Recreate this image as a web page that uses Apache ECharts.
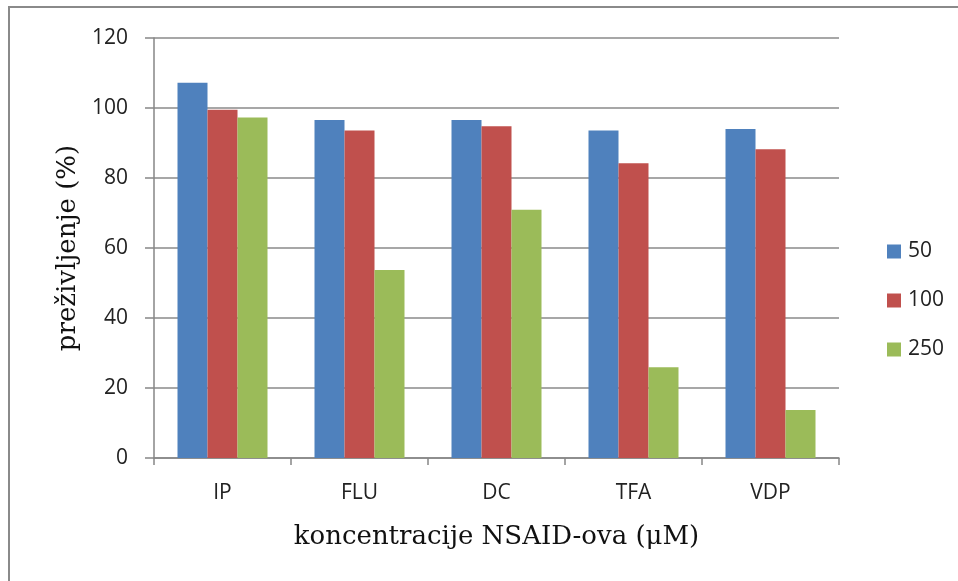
<!DOCTYPE html>
<html>
<head>
<meta charset="utf-8">
<script src="https://cdn.jsdelivr.net/npm/echarts@6/dist/echarts.min.js"></script>
<style>html,body{margin:0;padding:0;background:#fff}#c{width:958px;height:581px}</style>
</head>
<body>
<div id="c"></div>
<script>
const categories = ['IP', 'FLU', 'DC', 'TFA', 'VDP'];
const seriesNames = ['50', '100', '250'];
const s50 = [107.2, 96.6, 96.6, 93.6, 94.0];
const s100 = [99.5, 93.6, 94.8, 84.2, 88.2];
const s250 = [97.3, 53.7, 70.9, 25.9, 13.7];
const yTicks = [0, 20, 40, 60, 80, 100, 120];
const colors = ['#4F81BD', '#C0504D', '#9BBB59'];

const chart = echarts.init(document.getElementById('c'), null, {renderer: 'canvas'});
const seriesData = [s50, s100, s250];
const sansFont = 'Open Sans, sans-serif';
const serifFont = 'DejaVu Serif, serif';
chart.setOption({
  animation: false,
  backgroundColor: '#fff',
  graphic: [{
    type: 'rect', shape: {x: 9, y: 7, width: 1000, height: 1000},
    style: {fill: 'none', stroke: '#8a8a8a', lineWidth: 2}, silent: true
  }],
  grid: {left: 154, right: 119, top: 38, bottom: 123, containLabel: false},
  legend: {
    orient: 'vertical', left: 882, top: 236, itemGap: 28,
    itemWidth: 14, itemHeight: 14, icon: 'rect',
    textStyle: {fontFamily: sansFont, fontSize: 21, color: '#222', padding: [0, 0, 0, 2]},
    data: seriesNames
  },
  xAxis: {
    type: 'category', data: categories,
    axisLine: {lineStyle: {color: '#868686', width: 1.5}},
    axisTick: {show: true, length: 7, alignWithLabel: false, lineStyle: {color: '#868686', width: 1.5}},
    axisLabel: {fontFamily: sansFont, fontSize: 21, color: '#222', margin: 25},
    name: 'koncentracije NSAID-ova (μM)', nameLocation: 'middle', nameGap: 66,
    nameTextStyle: {fontFamily: serifFont, fontSize: 26, color: '#111'}
  },
  yAxis: {
    type: 'value', min: 0, max: 120, interval: 20,
    axisLine: {show: true, lineStyle: {color: '#868686', width: 1.5}},
    axisTick: {show: true, length: 9, lineStyle: {color: '#868686', width: 1.5}},
    splitLine: {lineStyle: {color: '#8a8a8a', width: 1.5}},
    axisLabel: {fontFamily: sansFont, fontSize: 21, color: '#222', margin: 26,
      formatter: v => yTicks.includes(v) ? String(v) : ''},
    name: 'preživljenje (%)', nameLocation: 'middle', nameGap: 73,
    nameTextStyle: {fontFamily: serifFont, fontSize: 26, color: '#111'}
  },
  series: seriesNames.map((n, i) => ({
    name: n, type: 'bar', data: seriesData[i],
    barWidth: 30, barGap: '0%',
    itemStyle: {color: colors[i]}
  }))
});
</script>
</body>
</html>
